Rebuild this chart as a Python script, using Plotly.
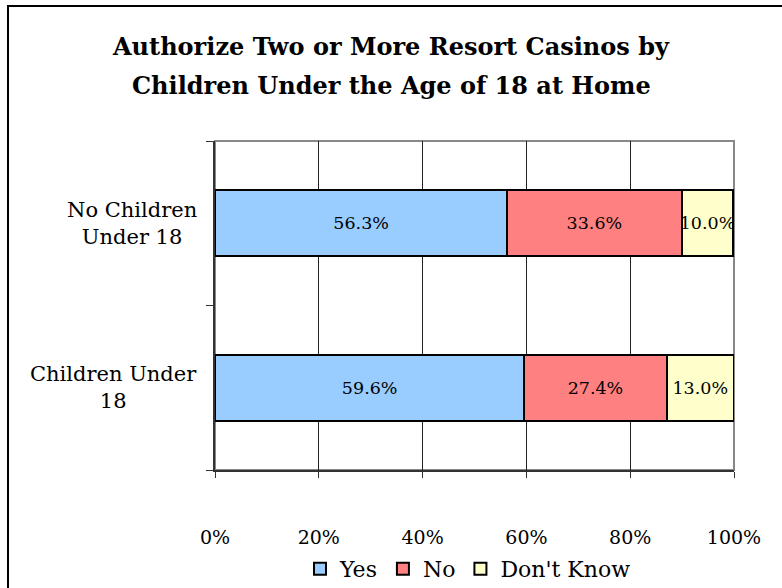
import plotly.graph_objects as go

categories = ["Children Under 18", "No Children Under 18"]
category_labels = ["Children Under<br>18", "No Children<br>Under 18"]
yes_vals = [59.6, 56.3]
no_vals = [27.4, 33.6]
dk_vals = [13.0, 10.0]
series_names = ["Yes", "No", "Don't Know"]
series_colors = ["#99CCFF", "#FF8080", "#FFFFCC"]
x_ticks = [0, 20, 40, 60, 80, 100]
x_tick_labels = ["0%", "20%", "40%", "60%", "80%", "100%"]
title_lines = ["Authorize Two or More Resort Casinos by",
               "Children Under the Age of 18 at Home"]

FONT = "DejaVu Serif, serif"

W, H = 782, 588
L, R, T, B = 215, 48, 141, 118
pw, ph = W - L - R, H - T - B

def px_x(p):
    return (p - L) / pw

def px_y(p):
    return (H - B - p) / ph

fig = go.Figure()
for name, vals, col in zip(series_names, [yes_vals, no_vals, dk_vals], series_colors):
    fig.add_trace(go.Bar(
        y=categories, x=vals, name=name, orientation="h",
        marker=dict(color=col, line=dict(color="black", width=2)),
        text=vals, texttemplate="%{x:.1f}%", textposition="inside",
        insidetextanchor="middle", constraintext="none", textangle=0,
        textfont=dict(family=FONT, size=17.5, color="black"),
        hoverinfo="skip",
    ))

for cat, lab in zip(categories, category_labels):
    fig.add_annotation(
        x=px_x(199), xref="paper", y=cat, yref="y", text=lab,
        xanchor="right", yanchor="middle", align="center", showarrow=False,
        font=dict(family=FONT, size=21, color="black"),
    )

for line, ypx in zip(title_lines, [47, 85]):
    fig.add_annotation(
        x=px_x(391), xref="paper", y=px_y(ypx), yref="paper",
        text="<b>" + line + "</b>", showarrow=False,
        xanchor="center", yanchor="middle", align="center",
        font=dict(family=FONT, size=24, color="black"),
    )

# plot area top/right border (gray)
fig.add_shape(type="rect", xref="paper", yref="paper", x0=0, x1=1, y0=0, y1=1,
              line=dict(color="#888888", width=2), layer="below")
# outer chart frame
fig.add_shape(type="rect", xref="paper", yref="paper",
              x0=px_x(8), x1=px_x(W + 20),
              y0=px_y(H + 20), y1=px_y(6),
              line=dict(color="black", width=2), layer="below")

fig.update_layout(
    width=W, height=H,
    margin=dict(l=L, r=R, t=T, b=B, autoexpand=False),
    barmode="stack", bargap=0.6,
    plot_bgcolor="white", paper_bgcolor="white",
    font=dict(family=FONT, size=19, color="black"),
    showlegend=True,
    legend=dict(orientation="h", x=px_x(300), xref="paper", xanchor="left",
                y=px_y(569), yref="paper", yanchor="middle",
                traceorder="normal",
                font=dict(family=FONT, size=22, color="black"),
                tracegroupgap=0),
    xaxis=dict(range=[0, 100], tickvals=x_ticks, ticktext=x_tick_labels,
               showgrid=True, gridcolor="#222222", gridwidth=1,
               showline=True, linecolor="#333333", linewidth=2,
               ticks="outside", ticklen=6, tickcolor="#333333",
               ticklabelstandoff=43,
               tickfont=dict(family=FONT, size=19, color="black"),
               zeroline=False, fixedrange=True),
    yaxis=dict(categoryorder="array", categoryarray=categories,
               showticklabels=False, tickson="boundaries",
               ticks="outside", ticklen=7, tickcolor="#333333",
               showline=True, linecolor="#333333", linewidth=2,
               showgrid=False, zeroline=False, fixedrange=True),
)

fig.write_html("out.html", config={"displayModeBar": False},
               post_script="document.body.style.margin='0';document.body.style.overflow='hidden';")
